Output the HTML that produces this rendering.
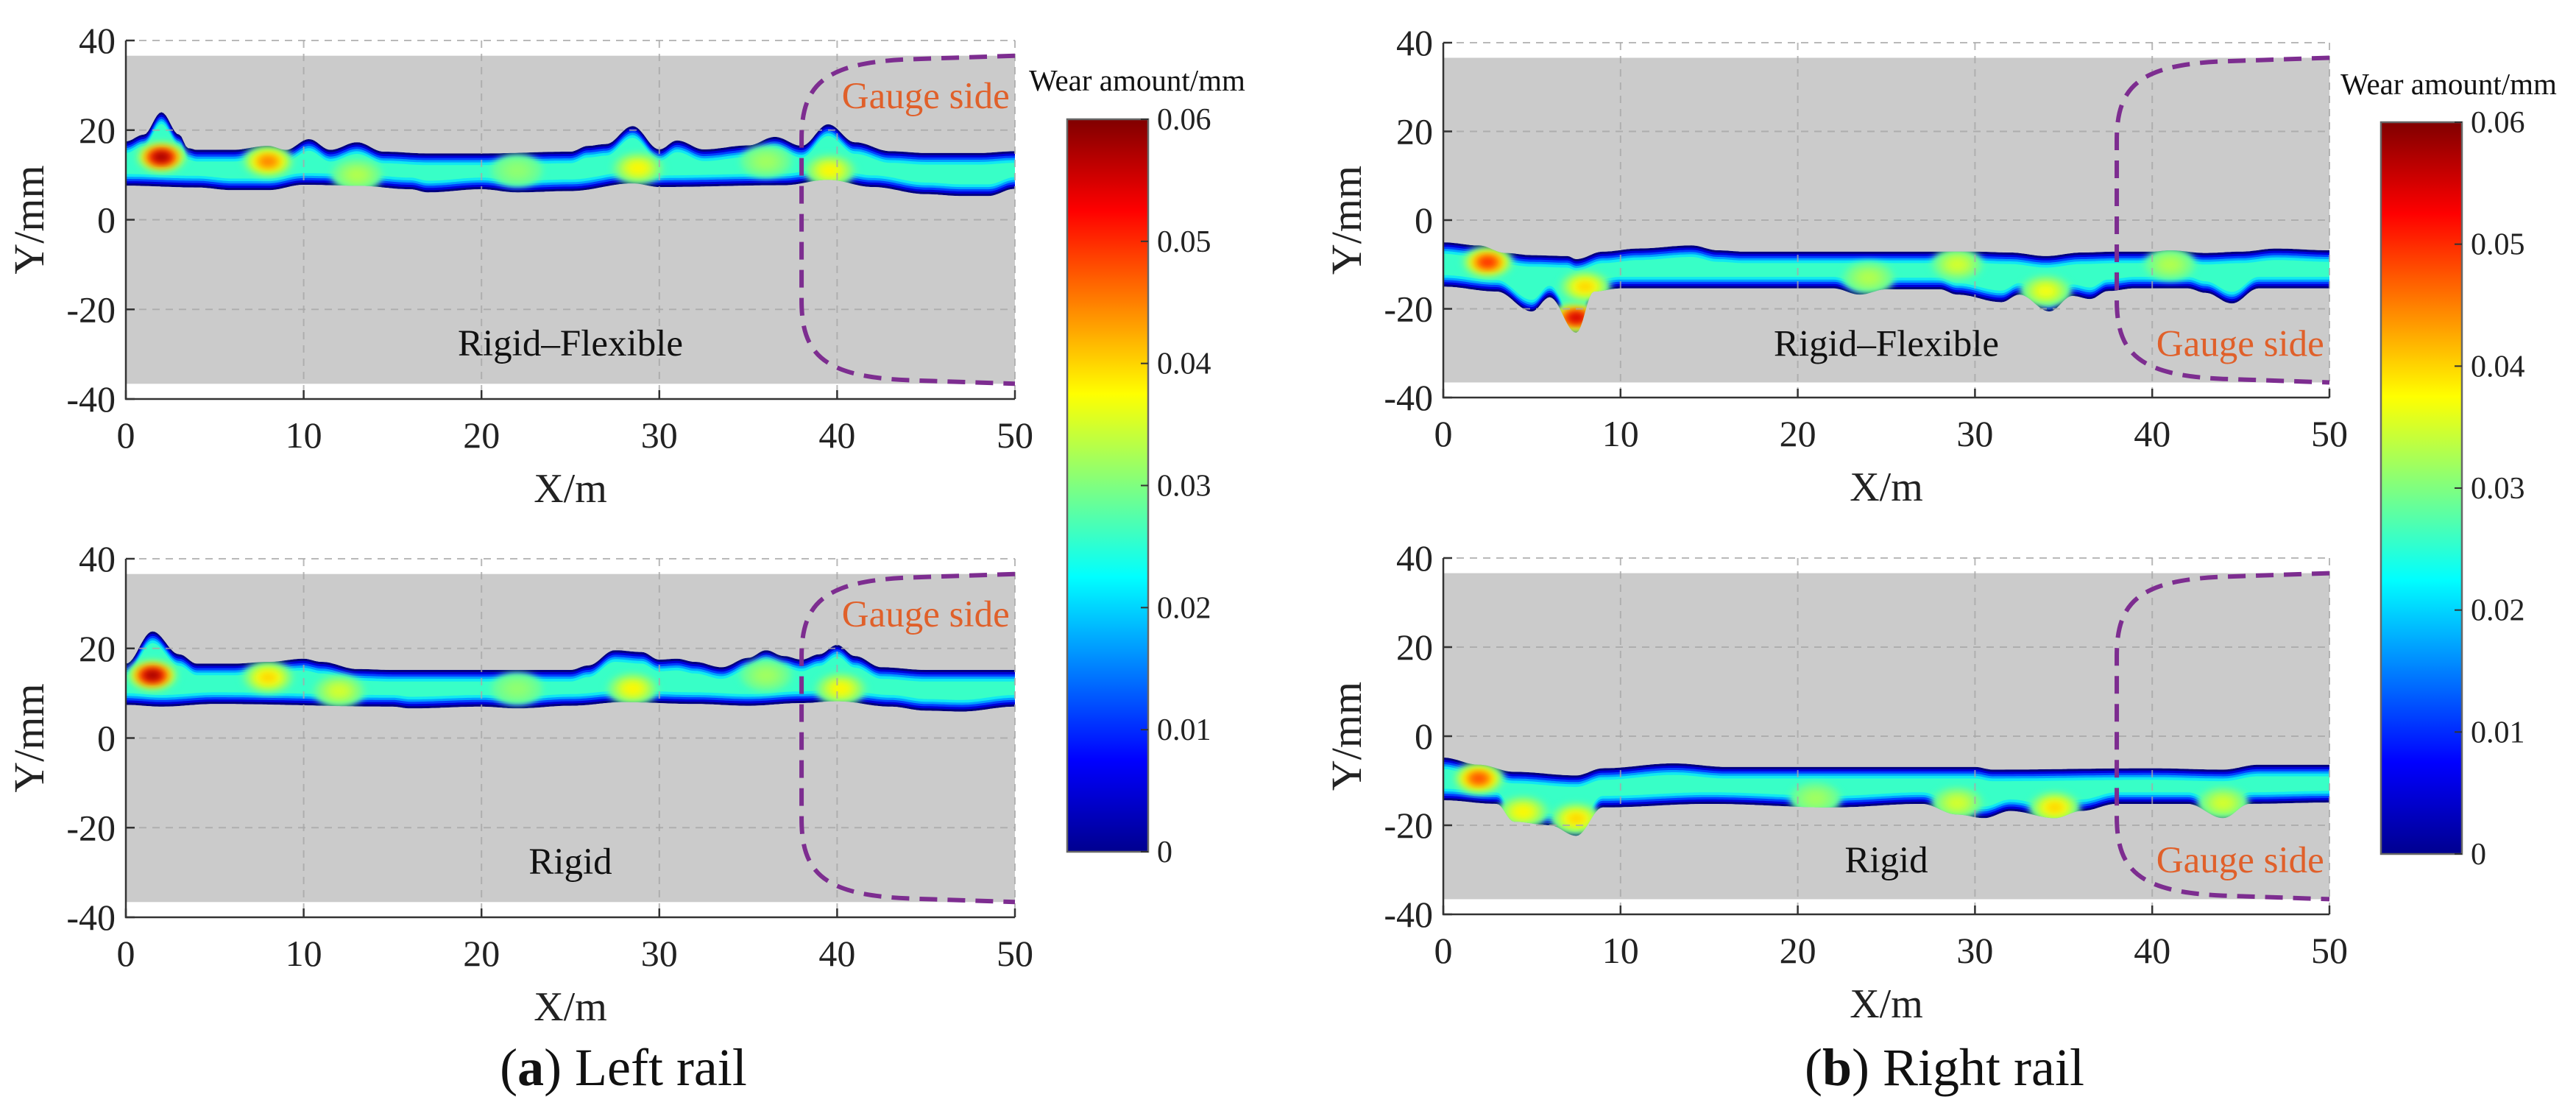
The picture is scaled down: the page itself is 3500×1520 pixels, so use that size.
<!DOCTYPE html>
<html><head><meta charset="utf-8">
<style>
html,body{margin:0;padding:0;background:#fff;}
svg{display:block;}
svg text{font-family:"Liberation Serif","DejaVu Serif",serif;}
</style></head>
<body>
<svg id="fig" width="3500" height="1520" viewBox="0 0 3500 1520" xmlns="http://www.w3.org/2000/svg" font-family="Liberation Serif, serif">
<defs>
<filter id="blur" x="-50%" y="-50%" width="200%" height="200%"><feGaussianBlur stdDeviation="5"/></filter>
<linearGradient id="jetgrad" x1="0" y1="1" x2="0" y2="0">
<stop offset="0" stop-color="#00008f"/><stop offset="0.125" stop-color="#0000ff"/><stop offset="0.375" stop-color="#00ffff"/><stop offset="0.625" stop-color="#ffff00"/><stop offset="0.875" stop-color="#ff0000"/><stop offset="1" stop-color="#800000"/>
</linearGradient>
</defs>
</svg>
<script>
// ---------- data ----------
const xTicks = [0,10,20,30,40,50];
const yTicks = [40,20,0,-20,-40];
const cbTicks = [0,0.01,0.02,0.03,0.04,0.05,0.06];
const cbTickLabels = ["0","0.01","0.02","0.03","0.04","0.05","0.06"];

const lfX = [0,1,2,3,3.5,4,6,8,9,10.3,11.5,13,14.5,17,20,25,26,27,28.5,30,31,32.5,35,36.5,38,39.5,41,43,45,48,50];
const lfUpper = [17.5,19,24,19,16,15.6,15.6,16.5,15.6,18,15.6,17.3,15.2,14.8,14.8,15.2,16.5,16.9,20.9,15.7,17.7,15.7,16.6,18.5,16.5,21.3,17.3,15.3,14.9,14.9,15.3];
const lfLowX = [0,4,6,8,10,13,16,17,20,22,25,28.5,30,37,39.5,42,45,47,48.5,50];
const lfLower = [7.6,7.2,6.6,6.6,7.8,7.6,6.8,6.1,6.8,6.1,6.4,8.1,7.3,7.7,8.9,7.3,5.7,5.3,5.3,6.9];
const lfHotX = [2,8,28.8,39.6,13,36,22];
const lfHotY = [14,13,11.5,11,10,13,11];
const lfHotV = [0.058,0.045,0.038,0.038,0.033,0.032,0.031];

const lrX = [0,1.5,3,4,6,8,10,11,13,15,25,26,27.5,29,30,31,32,33.5,35,36,37,38,39,40,41,42.5,45,50];
const lrUpper = [16.6,23.8,18.7,16.6,16.6,17,17.7,17,15.4,15.2,15.2,16.2,19.6,19.2,17.5,17.7,17,15.8,17.9,19.6,18.3,17.5,18.7,20.8,18.3,15.8,15.2,15.2];
const lrLowX = [0,2,5,15,16,20,22,25,28,32,35,38,40,43,45,47,50];
const lrLower = [7.4,7,7.6,7,6.6,7,6.6,7.2,8,7.6,7.2,7.8,8.2,7,6.1,5.9,7];
const lrHotX = [1.5,8,28.5,40.2,12,36,22];
const lrHotY = [14,13.5,11,11,10.5,14,11];
const lrHotV = [0.058,0.04,0.038,0.038,0.035,0.032,0.031];

const rfX = [0,2,3.5,5,7,7.5,9,11,14,15.5,17,30,32,34,36,38,40,41,43,45,47,50];
const rfUpper = [-5,-5.7,-7.4,-7.9,-8.1,-8.8,-7.1,-6.4,-5.7,-6.8,-7.1,-7.1,-7.3,-8.1,-7.3,-7.1,-7.1,-6.8,-7.4,-7.1,-6.4,-6.8];
const rfLowX = [0,3,5,6,7.5,8.5,10,22,23.5,25,28,29,31.5,32.5,34.2,35.5,36.5,37.5,39,42,43,44.5,46,50];
const rfLower = [-15,-16.1,-20.6,-17.4,-25.4,-16.1,-15.4,-15.4,-16.8,-15.6,-15.6,-16.8,-18.5,-16.8,-20.6,-17.1,-17.8,-16,-15.4,-15.4,-16.4,-18.8,-15.4,-15.4];
const rfHotX = [2.5,7.5,8,29,34,24,41];
const rfHotY = [-9.5,-22,-15,-10,-16,-13,-10];
const rfHotV = [0.05,0.055,0.04,0.035,0.037,0.033,0.033];

const rrX = [0,2,4,7.5,9,13,16,30,31,40,44,46,50];
const rrUpper = [-4.8,-6.4,-8,-8.8,-7.2,-6.1,-6.9,-6.9,-7.5,-7.2,-7.5,-6.4,-6.4];
const rrLowX = [0,3,4,6,7.5,9,15,22,27,29,30.5,32,34.5,36,38,42,44,45.5,50];
const rrLower = [-14.4,-15.2,-19.2,-20,-22.4,-16,-15.2,-16,-15.2,-17.6,-18.4,-16.8,-18.4,-16.8,-15.2,-15.2,-18.4,-15.2,-14.9];
const rrHotX = [2,7.5,4.5,34.5,29,44,21];
const rrHotY = [-9.5,-18.5,-17,-16,-15,-15,-14];
const rrHotV = [0.048,0.04,0.038,0.04,0.035,0.035,0.032];

const gaugeX = [50,44,38,38,44,50];
const gaugeY = [36.6,35.8,18,-18,-35.8,-36.6];

// ---------- helpers ----------
const NS = "http://www.w3.org/2000/svg";
const FONT = '"Liberation Serif", "DejaVu Serif", serif';
const svg = document.getElementById('fig');
function el(tag, attrs, parent){
  const e = document.createElementNS(NS, tag);
  for (const k in attrs) e.setAttribute(k, attrs[k]);
  if (tag === 'text') e.setAttribute('font-family', FONT);
  (parent||svg).appendChild(e);
  return e;
}
function jet(t){
  t = Math.max(0, Math.min(1, t));
  const r = Math.max(0, Math.min(1, 1.5 - Math.abs(4*t - 3)));
  const g = Math.max(0, Math.min(1, 1.5 - Math.abs(4*t - 2)));
  const b = Math.max(0, Math.min(1, 1.5 - Math.abs(4*t - 1)));
  return `rgb(${Math.round(r*255)},${Math.round(g*255)},${Math.round(b*255)})`;
}
function interp(xs, ys, x){
  if (x <= xs[0]) return ys[0];
  for (let i = 1; i < xs.length; i++){
    if (x <= xs[i]){
      let f = (x - xs[i-1])/(xs[i]-xs[i-1]);
      f = (1 - Math.cos(Math.PI*f))/2;
      return ys[i-1] + f*(ys[i]-ys[i-1]);
    }
  }
  return ys[ys.length-1];
}
let clipId = 0;

function panel(p){
  const sx = v => p.x0 + (v/50)*(p.x1 - p.x0);
  const sy = v => p.yt + (40 - v)/80*(p.yb - p.yt);
  const g = el('g', {});
  
  
  const bg = el('rect', {x:sx(0), y:sy(36.6), width:sx(50)-sx(0), height:sy(-36.6)-sy(36.6), fill:'#cbcbcb'}, g);
  
  
  const cid = 'clip' + (clipId++);
  const N = 400;
  function bandPath(inset){
    let d = '';
    for (let i = 0; i <= N; i++){
      const x = 50*i/N;
      const u = interp(p.ux, p.up, x) - inset, l = interp(p.lx, p.lo, x) + inset;
      const yy = Math.max(u, (u + l)/2 + 0.01);
      d += (i ? 'L' : 'M') + sx(x).toFixed(1) + ',' + sy(yy).toFixed(1);
    }
    for (let i = N; i >= 0; i--){
      const x = 50*i/N;
      const u = interp(p.ux, p.up, x) - inset, l = interp(p.lx, p.lo, x) + inset;
      const yy = Math.min(l, (u + l)/2 - 0.01);
      d += 'L' + sx(x).toFixed(1) + ',' + sy(yy).toFixed(1);
    }
    return d + 'Z';
  }
  const cp = el('clipPath', {id:cid}, g);
  el('path', {d:bandPath(0)}, cp);
  const bandG = el('g', {'clip-path':`url(#${cid})`}, g);
  
  
  const layers = [[0,'#00007f'],[0.5,'#0000d8'],[1.0,'#0040ff'],[1.5,'#00a0ff'],[2.0,'#10e8f0'],[2.6,'#38ffc7']];
  layers.forEach(([ins, col]) => {
    const lp = el('path', {d:bandPath(ins), fill:col}, bandG);
    
    
  });
  for (let i = 0; i < p.hx.length; i++){
    const v = p.hv[i];
    const steps = 5;
    for (let s = 0; s < steps; s++){
      const L = 0.028 + (v - 0.028)*(s/(steps-1));
      const f = 1 - s/steps;
      const e = el('ellipse', {cx:sx(p.hx[i]), cy:sy(p.hy[i]), rx:(1.2*f+0.25)*(p.x1-p.x0)/50, ry:(3.0*f+0.5)*(p.yb-p.yt)/80, fill:jet(L/0.06), filter:'url(#blur)'}, bandG);
      
      
    }
  }
  xTicks.forEach(t => {
    if (t === 0) return;
    const l = el('line', {x1:sx(t), x2:sx(t), y1:sy(40), y2:sy(-40), stroke:'#a8a8a8', 'stroke-width':2, 'stroke-dasharray':'10 8', opacity:0.8}, g);
    
    
  });
  yTicks.forEach(t => {
    if (t === -40) return;
    const l = el('line', {x1:sx(0), x2:sx(50), y1:sy(t), y2:sy(t), stroke:'#a8a8a8', 'stroke-width':2, 'stroke-dasharray':'10 8', opacity:0.8}, g);
    
    
  });
  const gd = `M${sx(gaugeX[0])},${sy(gaugeY[0])} L${sx(gaugeX[1])},${sy(gaugeY[1])} C${sx(39.2)},${sy(35)} ${sx(38)},${sy(30)} ${sx(gaugeX[2])},${sy(gaugeY[2])} L${sx(gaugeX[3])},${sy(gaugeY[3])} C${sx(38)},${sy(-30)} ${sx(39.2)},${sy(-35)} ${sx(gaugeX[4])},${sy(gaugeY[4])} L${sx(gaugeX[5])},${sy(gaugeY[5])}`;
  const gc = el('path', {d:gd, fill:'none', stroke:'#7d2d90', 'stroke-width':6, 'stroke-dasharray':'24 14'}, g);
  
  
  const ax = el('path', {d:`M${sx(0)},${sy(40)} L${sx(0)},${sy(-40)} L${sx(50)},${sy(-40)}`, fill:'none', stroke:'#333', 'stroke-width':2.5}, g);
  
  
  xTicks.forEach(t => {
    const tk = el('line', {x1:sx(t), x2:sx(t), y1:sy(-40), y2:sy(-40)-12, stroke:'#333', 'stroke-width':2.5}, g);
    
    
    const tl = el('text', {x:sx(t), y:sy(-40)+66, 'font-size':50, 'text-anchor':'middle', fill:'#222'}, g);
    tl.textContent = t;
    
    
  });
  yTicks.forEach(t => {
    const tk = el('line', {x1:sx(0), x2:sx(0)+12, y1:sy(t), y2:sy(t), stroke:'#333', 'stroke-width':2.5}, g);
    
    
    const tl = el('text', {x:sx(0)-14, y:sy(t)+17, 'font-size':50, 'text-anchor':'end', fill:'#222'}, g);
    tl.textContent = t;
    
    
  });
  const xt = el('text', {x:(sx(0)+sx(50))/2, y:sy(-40)+140, 'font-size':56, 'text-anchor':'middle', fill:'#222'}, g);
  xt.textContent = 'X/m';
  
  
  const yx = sx(0) - 112, yy = sy(0);
  const yt = el('text', {x:yx, y:yy, 'font-size':58, 'text-anchor':'middle', fill:'#222', transform:`rotate(-90 ${yx} ${yy})`}, g);
  yt.textContent = 'Y/mm';
  
  
  const ml = el('text', {x:sx(25), y:sy(p.labelY)+17, 'font-size':51, 'text-anchor':'middle', fill:'#111'}, g);
  ml.textContent = p.label;
  
  
  const gl = el('text', {x:sx(49.7), y:sy(p.gaugeY)+17, 'font-size':51, 'text-anchor':'end', fill:'#e0602a'}, g);
  gl.textContent = 'Gauge side';
  
  
}

function colorbar(c){
  const g = el('g', {});
  
  
  const sv = v => c.y0 + (v/0.06)*(c.y6 - c.y0);
  const r = el('rect', {x:c.x, y:c.y6, width:c.w, height:c.y0-c.y6, fill:'url(#jetgrad)', stroke:'#666', 'stroke-width':2.5}, g);
  
  
  cbTicks.forEach((t, i) => {
    const tk = el('line', {x1:c.x+c.w-10, x2:c.x+c.w, y1:sv(t), y2:sv(t), stroke:'#333', 'stroke-width':2}, g);
    
    
    const tl = el('text', {x:c.x+c.w+12, y:sv(t)+14, 'font-size':42, fill:'#222'}, g);
    tl.textContent = cbTickLabels[i];
    
    
  });
  const t = el('text', {x:c.tx, y:c.ty+13, 'font-size':41, 'text-anchor':'middle', fill:'#111'}, g);
  t.textContent = 'Wear amount/mm';
  
  
}

panel({name:'left-rail-rigid-flexible-plot', x0:171, x1:1379, yt:55, yb:542, ux:lfX, up:lfUpper, lx:lfLowX, lo:lfLower, hx:lfHotX, hy:lfHotY, hv:lfHotV, label:'Rigid\u2013Flexible', labelY:-27.5, gaugeY:27.7});
panel({name:'left-rail-rigid-plot', x0:171, x1:1379, yt:759, yb:1246, ux:lrX, up:lrUpper, lx:lrLowX, lo:lrLower, hx:lrHotX, hy:lrHotY, hv:lrHotV, label:'Rigid', labelY:-27.5, gaugeY:27.7});
panel({name:'right-rail-rigid-flexible-plot', x0:1961, x1:3165, yt:58, yb:540, ux:rfX, up:rfUpper, lx:rfLowX, lo:rfLower, hx:rfHotX, hy:rfHotY, hv:rfHotV, label:'Rigid\u2013Flexible', labelY:-27.8, gaugeY:-27.8});
panel({name:'right-rail-rigid-plot', x0:1961, x1:3165, yt:758, yb:1242, ux:rrX, up:rrUpper, lx:rrLowX, lo:rrLower, hx:rrHotX, hy:rrHotY, hv:rrHotV, label:'Rigid', labelY:-27.8, gaugeY:-27.8});

colorbar({x:1450, w:110, y6:162, y0:1157, tx:1545, ty:110});
colorbar({x:3235, w:110, y6:166, y0:1160, tx:3327, ty:115});

function caption(cx, letter, rest, name){
  const t = el('text', {x:cx, y:1474, 'font-size':72, 'text-anchor':'middle', fill:'#111'});
  
  
  const a = el('tspan', {}, t); a.textContent = '(';
  const b = el('tspan', {'font-weight':'bold'}, t); b.textContent = letter;
  const c = el('tspan', {}, t); c.textContent = ') ' + rest;
}
caption(847, 'a', 'Left rail', 'caption-left-rail');
caption(2642, 'b', 'Right rail', 'caption-right-rail');
</script>
</body></html>
